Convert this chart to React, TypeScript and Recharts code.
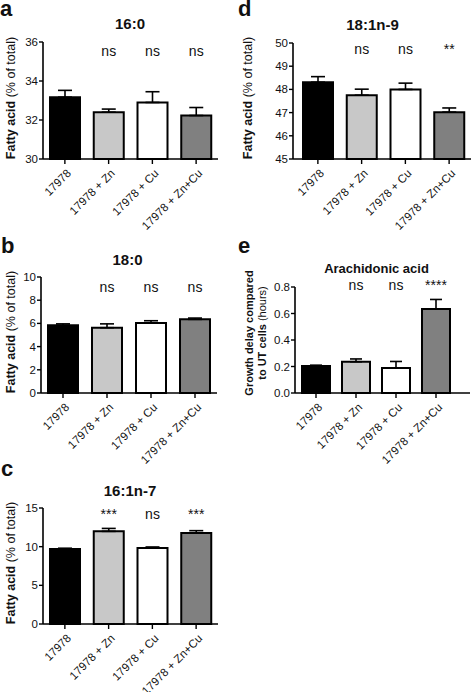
import { Bar, BarChart, Cell, ErrorBar, LabelList, XAxis, YAxis } from "recharts";

const GROUPS = ["17978", "17978 + Zn", "17978 + Cu", "17978 + Zn+Cu"];
const BAR_FILLS = ["#000000", "#c8c8c8", "#ffffff", "#808080"];

// 16:0
const C16_0 = [33.17, 32.4, 32.9, 32.23];
const C16_0_SEM = [0.35, 0.16, 0.55, 0.41];
const C16_0_SIG = ["", "ns", "ns", "ns"];
const C16_0_TICKS = [30, 32, 34, 36];

// 18:1n-9
const C18_1 = [48.31, 47.75, 48.0, 47.02];
const C18_1_SEM = [0.24, 0.26, 0.27, 0.18];
const C18_1_SIG = ["", "ns", "ns", "**"];
const C18_1_TICKS = [45, 46, 47, 48, 49, 50];

// 18:0
const C18_0 = [5.83, 5.63, 6.03, 6.35];
const C18_0_SEM = [0.13, 0.33, 0.2, 0.11];
const C18_0_SIG = ["", "ns", "ns", "ns"];
const C18_0_TICKS = [0, 2, 4, 6, 8, 10];

// arachidonic acid growth delay
const ARACH = [0.204, 0.236, 0.188, 0.634];
const ARACH_SEM = [0.006, 0.021, 0.05, 0.072];
const ARACH_SIG = ["", "ns", "ns", "****"];
const ARACH_TICKS = [0, 0.2, 0.4, 0.6, 0.8];

// 16:1n-7
const C16_1 = [9.7, 11.98, 9.83, 11.77];
const C16_1_SEM = [0.1, 0.38, 0.13, 0.3];
const C16_1_SIG = ["", "***", "ns", "***"];
const C16_1_TICKS = [0, 5, 10, 15];

const FONT = "'Liberation Sans', Arial, Helvetica, sans-serif";

type Seg = [string, boolean];

type PanelProps = {
  left: number;
  top: number;
  width: number;
  height: number;
  margin: { top: number; right: number; bottom: number; left: number };
  yWidth: number;
  xPad?: { left: number; right: number };
  ticks: number[];
  fmt?: (v: number) => string;
  values: number[];
  sems: number[];
  sigs: string[];
  sigY: number;
  barSize: number;
  cap: number;
  label: Seg[][];
  labelX: number;
  labelY: number;
  labelSize: number;
};

function GroupTick(props: any) {
  const { x, y, payload } = props;
  const ax = x + 7;
  const ay = y + 8;
  return (
    <text
      x={ax}
      y={ay}
      textAnchor="end"
      transform={`rotate(-45, ${ax}, ${ay})`}
      fontSize={11.5}
      fontFamily={FONT}
      fill="#111"
    >
      {payload.value}
    </text>
  );
}

function Panel(p: PanelProps) {
  const rows = GROUPS.map((g, i) => ({
    group: g,
    value: p.values[i],
    err: [0, p.sems[i]],
    sig: p.sigs[i],
  }));

  const yTitle = () => (
    <text
      transform={`rotate(-90, ${p.labelX}, ${p.labelY})`}
      x={p.labelX}
      y={p.labelY}
      textAnchor="middle"
      fontSize={p.labelSize}
      fontFamily={FONT}
      fill="#111"
    >
      {p.label.map((line, i) => (
        <tspan key={i} x={p.labelX} dy={i === 0 ? 0 : p.labelSize * 1.15}>
          {line.map(([t, b], j) => (
            <tspan key={j} fontWeight={b ? "bold" : "normal"}>
              {t}
            </tspan>
          ))}
        </tspan>
      ))}
    </text>
  );

  // extra room under the axis so the slanted group names are not clipped
  const extra = 30;

  return (
    <div style={{ position: "absolute", left: p.left, top: p.top }}>
      <BarChart
        width={p.width}
        height={p.height + extra}
        data={rows}
        margin={{ ...p.margin, bottom: p.margin.bottom + extra }}
      >
        <XAxis
          dataKey="group"
          height={60}
          interval={0}
          padding={p.xPad ?? { left: 0, right: 0 }}
          axisLine={{ stroke: "#000", strokeWidth: 1.6 }}
          tickLine={{ stroke: "#000", strokeWidth: 1.4 }}
          tickSize={5}
          tickMargin={2}
          tick={<GroupTick />}
        />
        <YAxis
          width={p.yWidth}
          domain={[p.ticks[0], p.ticks[p.ticks.length - 1]]}
          ticks={p.ticks}
          interval={0}
          tickFormatter={p.fmt}
          axisLine={{ stroke: "#000", strokeWidth: 1.6 }}
          tickLine={{ stroke: "#000", strokeWidth: 1.4 }}
          tickSize={4}
          tickMargin={1}
          tick={{ fill: "#111", fontSize: 11.5, fontFamily: FONT }}
          label={{ content: yTitle }}
        />
        <Bar
          dataKey="value"
          barSize={p.barSize}
          stroke="#000"
          strokeWidth={2}
          isAnimationActive={false}
        >
          {rows.map((r, i) => (
            <Cell key={r.group} fill={BAR_FILLS[i]} stroke="#000" strokeWidth={2} />
          ))}
          <ErrorBar
            dataKey="err"
            direction="y"
            width={p.cap}
            stroke="#000"
            strokeWidth={1.6}
            isAnimationActive={false}
          />
          <LabelList
            dataKey="sig"
            content={(lp: any) =>
              lp.value ? (
                <text
                  x={lp.x + lp.width / 2}
                  y={p.sigY}
                  textAnchor="middle"
                  fontSize={14}
                  fontFamily={FONT}
                  fill="#111"
                >
                  {lp.value}
                </text>
              ) : null
            }
          />
        </Bar>
      </BarChart>
    </div>
  );
}

const FATTY: Seg[][] = [[["Fatty acid", true], [" (% of total)", false]]];
const GROWTH: Seg[][] = [
  [["Growth delay compared", true]],
  [["to UT cells", true], [" (hours)", false]],
];

export default function App() {
  return (
    <div
      style={{
        position: "absolute",
        left: 0,
        top: 0,
        width: 472,
        height: 692,
        background: "#fff",
        fontFamily: FONT,
        overflow: "hidden",
      }}
    >
      <Panel
        left={0}
        top={0}
        width={236}
        height={230}
        margin={{ top: 42, right: 18, bottom: 11, left: 0 }}
        yWidth={43}
        ticks={C16_0_TICKS}
        values={C16_0}
        sems={C16_0_SEM}
        sigs={C16_0_SIG}
        sigY={56}
        barSize={30}
        cap={7}
        label={FATTY}
        labelX={15}
        labelY={98}
        labelSize={12.5}
      />
      <Panel
        left={236}
        top={0}
        width={236}
        height={230}
        margin={{ top: 43, right: 1, bottom: 11, left: 0 }}
        yWidth={57}
        xPad={{ left: 3, right: 0 }}
        ticks={C18_1_TICKS}
        values={C18_1}
        sems={C18_1_SEM}
        sigs={C18_1_SIG}
        sigY={54}
        barSize={30}
        cap={7}
        label={FATTY}
        labelX={15.5}
        labelY={98}
        labelSize={12.5}
      />
      <Panel
        left={0}
        top={230}
        width={236}
        height={230}
        margin={{ top: 47, right: 19, bottom: 7, left: 0 }}
        yWidth={41}
        ticks={C18_0_TICKS}
        values={C18_0}
        sems={C18_0_SEM}
        sigs={C18_0_SIG}
        sigY={61.5}
        barSize={30}
        cap={7}
        label={FATTY}
        labelX={15}
        labelY={102}
        labelSize={12.5}
      />
      <Panel
        left={236}
        top={230}
        width={236}
        height={230}
        margin={{ top: 57, right: 2, bottom: 7, left: 0 }}
        yWidth={59}
        xPad={{ left: 1, right: 14 }}
        ticks={ARACH_TICKS}
        fmt={(v) => v.toFixed(1)}
        values={ARACH}
        sems={ARACH_SEM}
        sigs={ARACH_SIG}
        sigY={60}
        barSize={28}
        cap={6}
        label={GROWTH}
        labelX={17}
        labelY={103}
        labelSize={11}
      />
      <Panel
        left={0}
        top={460}
        width={236}
        height={232}
        margin={{ top: 48, right: 18, bottom: 8, left: 0 }}
        yWidth={43}
        ticks={C16_1_TICKS}
        values={C16_1}
        sems={C16_1_SEM}
        sigs={C16_1_SIG}
        sigY={59}
        barSize={30}
        cap={7}
        label={FATTY}
        labelX={15}
        labelY={103}
        labelSize={12.5}
      />
      <svg
        width={472}
        height={692}
        style={{ position: "absolute", left: 0, top: 0, pointerEvents: "none" }}
        fontFamily={FONT}
        fontWeight="bold"
        fill="#111"
      >
        <text x={0} y={16} fontSize={22}>a</text>
        <text x={238} y={16} fontSize={22}>d</text>
        <text x={1} y={253} fontSize={22}>b</text>
        <text x={238} y={253} fontSize={22}>e</text>
        <text x={1} y={476} fontSize={22}>c</text>
        <g textAnchor="middle" fontSize={15}>
          <text x={130} y={28.5}>16:0</text>
          <text x={372.5} y={29.5}>18:1n-9</text>
          <text x={127.5} y={265}>18:0</text>
          <text x={376.5} y={273} fontSize={13}>Arachidonic acid</text>
          <text x={130} y={496}>16:1n-7</text>
        </g>
      </svg>
    </div>
  );
}
